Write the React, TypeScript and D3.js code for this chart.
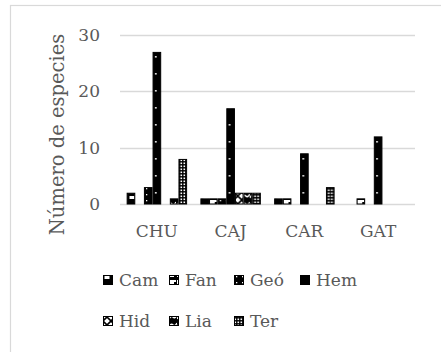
import React from "react";
import * as d3 from "d3";

const categories = ["CHU", "CAJ", "CAR", "GAT"];
const seriesNames = ["Cam", "Fan", "Geó", "Hem", "Hid", "Lia", "Ter"];
const Cam = [2, 1, 1, 0];
const Fan = [0, 1, 1, 1];
const Geo = [3, 1, 0, 0];
const Hem = [27, 17, 9, 12];
const Hid = [0, 2, 0, 0];
const Lia = [1, 2, 0, 0];
const Ter = [8, 2, 3, 0];
const seriesValues = [Cam, Fan, Geo, Hem, Hid, Lia, Ter];
const yTicks = [0, 10, 20, 30];

const W = 441;
const H = 352;
const FONT = "'DejaVu Serif', serif";
const GRAY = "#595959";

const Patterns = () => (
  <defs>
    <pattern id="p0" patternUnits="userSpaceOnUse" width={8} height={8}>
      <rect width={8} height={8} fill="#000" />
      <rect x={1.5} y={4} width={5} height={3} fill="#fff" />
    </pattern>
    <pattern id="p1" patternUnits="userSpaceOnUse" width={8} height={8}>
      <rect width={8} height={8} fill="#000" />
      <rect x={0} y={0} width={5} height={5} fill="#fff" />
      <rect x={5} y={0} width={2} height={2} fill="#fff" />
    </pattern>
    <pattern id="p2" patternUnits="userSpaceOnUse" width={6} height={6}>
      <rect width={6} height={6} fill="#000" />
      <rect x={2} y={2} width={1.3} height={1.3} fill="#fff" />
    </pattern>
    <pattern id="p3" patternUnits="userSpaceOnUse" width={73.75} height={17} x={-1} y={5}>
      <rect width={73.75} height={17} fill="#000" />
      <rect x={36} y={0} width={1.6} height={1.6} fill="#fff" />
    </pattern>
    <pattern id="p4" patternUnits="userSpaceOnUse" width={8} height={8}>
      <rect width={8} height={8} fill="#fff" />
      <path d="M0,0 L8,8 M8,0 L0,8" stroke="#000" strokeWidth={1.6} />
    </pattern>
    <pattern id="p5" patternUnits="userSpaceOnUse" width={8} height={8}>
      <rect width={8} height={8} fill="#000" />
      <path d="M0,6 Q2,2 4,4 Q6,6 8,2" stroke="#fff" strokeWidth={1.4} fill="none" />
    </pattern>
    <pattern id="p6" patternUnits="userSpaceOnUse" width={3} height={3}>
      <rect width={3} height={3} fill="#000" />
      <rect x={0.5} y={0.5} width={1.6} height={1.6} fill="#fff" />
    </pattern>
  </defs>
);

export default function App() {
  const x0 = d3.scaleBand<string>().domain(categories).range([120, 415]).paddingInner(0).paddingOuter(0);
  const x1 = d3
    .scaleBand<string>()
    .domain(seriesNames)
    .range([0, x0.bandwidth()])
    .paddingInner(0)
    .paddingOuter(0.77);
  const y = d3.scaleLinear().domain([0, 30]).range([204, 35]);

  const legendRows = [
    [0, 1, 2, 3],
    [4, 5, 6],
  ];
  const legendX = [103, 169, 234, 300];
  const legendY = [280, 321];

  return (
    <svg
      width={W}
      height={H}
      style={{ position: "absolute", left: 0, top: 0, background: "#fff" }}
      fontFamily={FONT}
    >
      <Patterns />
      <rect x={0} y={0} width={W} height={H} fill="#fff" />
      <rect x={10.5} y={5.5} width={600} height={600} fill="none" stroke="#d9d9d9" strokeWidth={1.2} />
      {yTicks.map((t) => (
        <g key={t}>
          <line x1={120} x2={415} y1={Math.round(y(t)) + 0.5} y2={Math.round(y(t)) + 0.5} stroke="#d9d9d9" strokeWidth={1.3} />
          <text x={100} y={y(t)} dy="0.35em" textAnchor="end" fontSize={17} fill={GRAY}>
            {t}
          </text>
        </g>
      ))}
      <text
        transform={`translate(57,${(y(0) + y(30)) / 2 + 15}) rotate(-90)`}
        textAnchor="middle"
        dy="0.35em"
        fontSize={19.5}
        fill={GRAY}
      >
        Número de especies
      </text>
      {categories.map((c, ci) => (
        <g key={c} transform={`translate(${x0(c)},0)`}>
          {seriesNames.map((s, si) => {
            const v = seriesValues[si][ci];
            if (!v) return null;
            const bx = x1(s)!;
            const top = y(v);
            return (
              <rect
                key={s}
                x={bx + 0.5}
                y={top + 0.5}
                width={x1.bandwidth() - 1}
                height={y(0) - top - 0.5}
                fill={`url(#p${si})`}
                stroke="#000"
                strokeWidth={1}
              />
            );
          })}
          <text x={x0.bandwidth() / 2} y={231} dy="0.35em" textAnchor="middle" fontSize={17} fill={GRAY}>
            {c}
          </text>
        </g>
      ))}
      {legendRows.map((row, ri) =>
        row.map((si, k) => (
          <g key={si} transform={`translate(${legendX[k]},${legendY[ri]})`}>
            <rect x={0.5} y={-4.5} width={9} height={9} fill={`url(#p${si})`} stroke="#000" strokeWidth={1} />
            <text x={16} y={0} dy="0.35em" fontSize={17} fill={GRAY}>
              {seriesNames[si]}
            </text>
          </g>
        ))
      )}
    </svg>
  );
}
